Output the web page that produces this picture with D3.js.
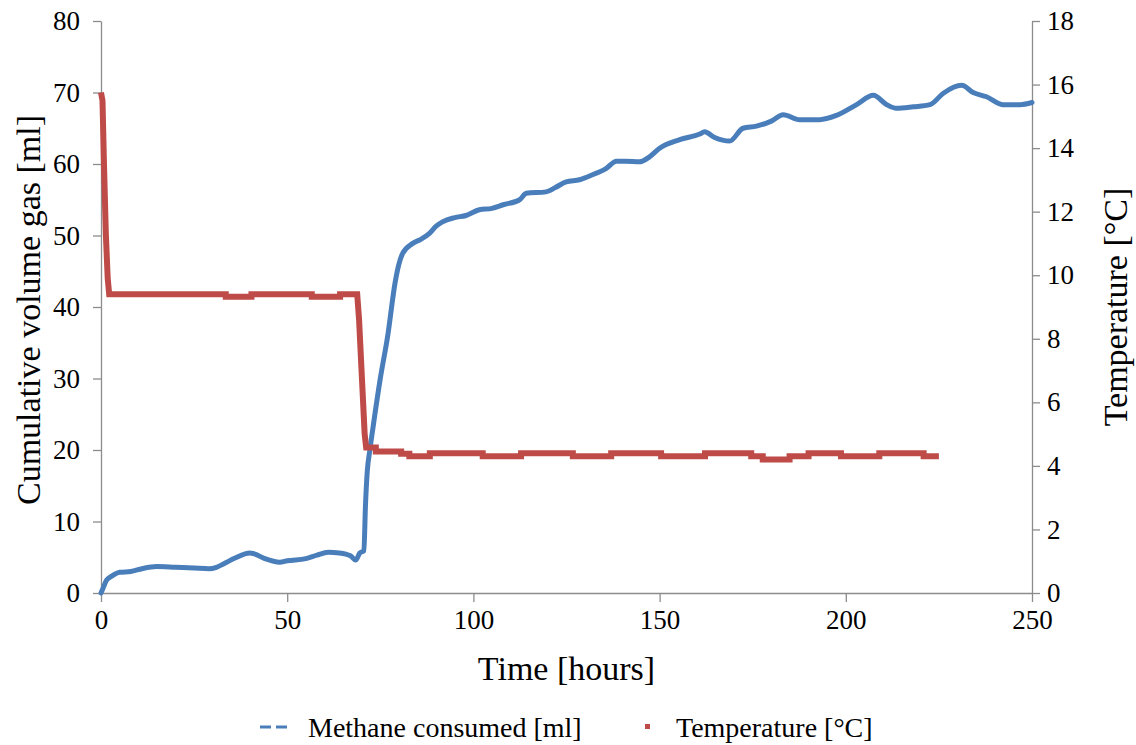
<!DOCTYPE html>
<html>
<head>
<meta charset="utf-8">
<script src="https://cdn.jsdelivr.net/npm/d3@7"></script>
<style>
  html, body { margin: 0; padding: 0; background: #fff; }
  svg text {
    font-family: "Liberation Serif", "Times New Roman", Times, "Nimbus Roman", "Nimbus Roman No9 L",
      "Noto Serif", "DejaVu Serif", Tinos, FreeSerif, serif;
    fill: #000;
  }
</style>
</head>
<body>
<svg id="chart" width="1136" height="745"></svg>
<script>
// Cumulative methane consumed [ml] against time [hours]
const methaneTime = [0, 0.5, 1.5, 3, 5, 8, 11, 15, 20, 25, 29, 31, 33, 36, 40, 41, 44, 48, 50, 55, 58, 61, 64, 67, 68.4, 69.5, 70.6,
  71, 71.5, 72.2, 73, 75, 77, 79, 80, 81, 83.7, 86, 88.2, 90, 91.7, 95, 98, 101.6, 105, 108, 112.4, 114.2, 119.5, 122, 124.9,
  128.5, 132, 135.7, 138.4, 141, 144.6, 147.3, 150, 155.4, 160.8, 162.1, 164.8, 168.8, 172.4, 176, 180, 183.2, 187.6, 193,
  197.5, 202.9, 207.4, 211, 213.6, 218.1, 222.6, 226.2, 231.1, 234.2, 237.8, 242.3, 246.8, 250];
const methaneMl = [0, 0.6, 1.8, 2.4, 2.9, 3.0, 3.4, 3.7, 3.6, 3.5, 3.4, 3.6, 4.1, 4.9, 5.6, 5.5, 4.8, 4.3, 4.5, 4.8, 5.3, 5.7, 5.6, 5.2, 4.6, 5.6, 5.9,
  12, 17, 20, 23, 30, 36, 43.5, 46, 47.5, 48.9, 49.5, 50.3, 51.3, 51.9, 52.5, 52.8, 53.6, 53.8, 54.3, 55.0, 55.9, 56.1, 56.7, 57.5,
  57.8, 58.5, 59.4, 60.4, 60.4, 60.3, 61.0, 62.2, 63.4, 64.2, 64.5, 63.7, 63.2, 65.0, 65.3, 66.0, 66.9, 66.2, 66.2,
  66.8, 68.3, 69.6, 68.3, 67.8, 68.0, 68.3, 69.9, 71.0, 70.0, 69.4, 68.3, 68.3, 68.6];

// Logged temperature [°C]; plateaus are closed with a repeated time stamp
const tempTime = [0, 0.4, 0.8, 1.3, 1.8, 2.2, 33.5, 33.5, 40.4, 40.4, 56.6, 56.6, 64.2, 64.2, 68.8, 69.3, 69.8, 70.3, 70.8, 71.2,
  73.8, 73.8, 80.6, 80.6, 82.8, 82.8, 88.3, 88.3, 102.5, 102.5, 112.8, 112.8, 126.7, 126.7, 137, 137, 150.4, 150.4,
  162.2, 162.2, 174.6, 174.6, 177.7, 177.7, 184.9, 184.9, 190, 190, 198.7, 198.7, 209, 209, 220.9, 220.9, 225];
const tempC = [15.75, 15.5, 13.5, 11.3, 9.9, 9.4, 9.4, 9.32, 9.32, 9.4, 9.4, 9.32, 9.32, 9.4, 9.4, 8.6, 7.4, 6.2, 5.0, 4.58,
  4.58, 4.45, 4.45, 4.38, 4.38, 4.3, 4.3, 4.4, 4.4, 4.3, 4.3, 4.4, 4.4, 4.3, 4.3, 4.4, 4.4, 4.3,
  4.3, 4.4, 4.4, 4.3, 4.3, 4.2, 4.2, 4.3, 4.3, 4.4, 4.4, 4.3, 4.3, 4.4, 4.4, 4.3, 4.3];

const xTicks = [0, 50, 100, 150, 200, 250];
const volumeTicks = [0, 10, 20, 30, 40, 50, 60, 70, 80];
const tempTicks = [0, 2, 4, 6, 8, 10, 12, 14, 16, 18];

const seriesNames = ["Methane consumed [ml]", "Temperature [°C]"];
const colors = { methane: "#4a7ebb", temp: "#be4b48", axis: "#8c8c8c" };

const svg = d3.select("#chart");
const plot = { left: 101, right: 1032, top: 21, bottom: 593 };

const x = d3.scaleLinear().domain([0, 250]).range([plot.left, plot.right]);
const yVol = d3.scaleLinear().domain([0, 80]).range([plot.bottom, plot.top]);
const yTemp = d3.scaleLinear().domain([0, 18]).range([plot.bottom, plot.top]);

function styleAxis(g) {
  g.attr("font-family", null);
  g.select(".domain").attr("stroke", colors.axis).attr("stroke-width", 1.3);
  g.selectAll(".tick line").attr("stroke", colors.axis).attr("stroke-width", 1.3);
  g.selectAll(".tick text").style("font-size", "27px");
}

// x axis
svg.append("g")
  .attr("transform", `translate(0,${plot.bottom})`)
  .call(d3.axisBottom(x).tickValues(xTicks).tickSize(9).tickSizeOuter(0).tickPadding(8))
  .call(styleAxis);

// left axis: cumulative volume
svg.append("g")
  .attr("transform", `translate(${plot.left},0)`)
  .call(d3.axisLeft(yVol).tickValues(volumeTicks).tickSize(8).tickSizeOuter(0).tickPadding(13))
  .call(styleAxis);

// right axis: temperature
svg.append("g")
  .attr("transform", `translate(${plot.right},0)`)
  .call(d3.axisRight(yTemp).tickValues(tempTicks).tickSize(8).tickSizeOuter(0).tickPadding(7))
  .call(styleAxis);

// series lines
const methaneData = methaneTime.map((t, i) => [t, methaneMl[i]]);
const tempData = tempTime.map((t, i) => [t, tempC[i]]);

svg.append("path")
  .datum(methaneData)
  .attr("fill", "none")
  .attr("stroke", colors.methane)
  .attr("stroke-width", 5)
  .attr("stroke-linejoin", "round")
  .attr("stroke-linecap", "round")
  .attr("d", d3.line().x(d => x(d[0])).y(d => yVol(d[1])).curve(d3.curveMonotoneX));

svg.append("path")
  .datum(tempData)
  .attr("fill", "none")
  .attr("stroke", colors.temp)
  .attr("stroke-width", 6)
  .attr("stroke-linejoin", "miter")
  .attr("d", d3.line().x(d => x(d[0])).y(d => yTemp(d[1])));

// axis titles
svg.append("text")
  .attr("x", (plot.left + plot.right) / 2)
  .attr("y", 680)
  .attr("text-anchor", "middle")
  .style("font-size", "34px")
  .text("Time [hours]");

svg.append("text")
  .attr("transform", `translate(40,${(plot.top + plot.bottom) / 2 + 3}) rotate(-90)`)
  .attr("text-anchor", "middle")
  .style("font-size", "34px")
  .text("Cumulative volume gas [ml]");

svg.append("text")
  .attr("transform", `translate(1127,${(plot.top + plot.bottom) / 2}) rotate(-90)`)
  .attr("text-anchor", "middle")
  .style("font-size", "34px")
  .text("Temperature [°C]");

// legend
const legend = svg.append("g").attr("transform", "translate(0,727)");
legend.append("line")
  .attr("x1", 260).attr("x2", 291).attr("y1", 0).attr("y2", 0)
  .attr("stroke", colors.methane).attr("stroke-width", 3)
  .attr("stroke-dasharray", "11,5");
legend.append("text")
  .attr("x", 308).attr("y", 10)
  .style("font-size", "28px")
  .text(seriesNames[0]);
legend.append("rect")
  .attr("x", 645).attr("y", -3).attr("width", 5).attr("height", 5)
  .attr("fill", colors.temp);
legend.append("text")
  .attr("x", 676).attr("y", 10)
  .style("font-size", "28px")
  .text(seriesNames[1]);
</script>
</body>
</html>
